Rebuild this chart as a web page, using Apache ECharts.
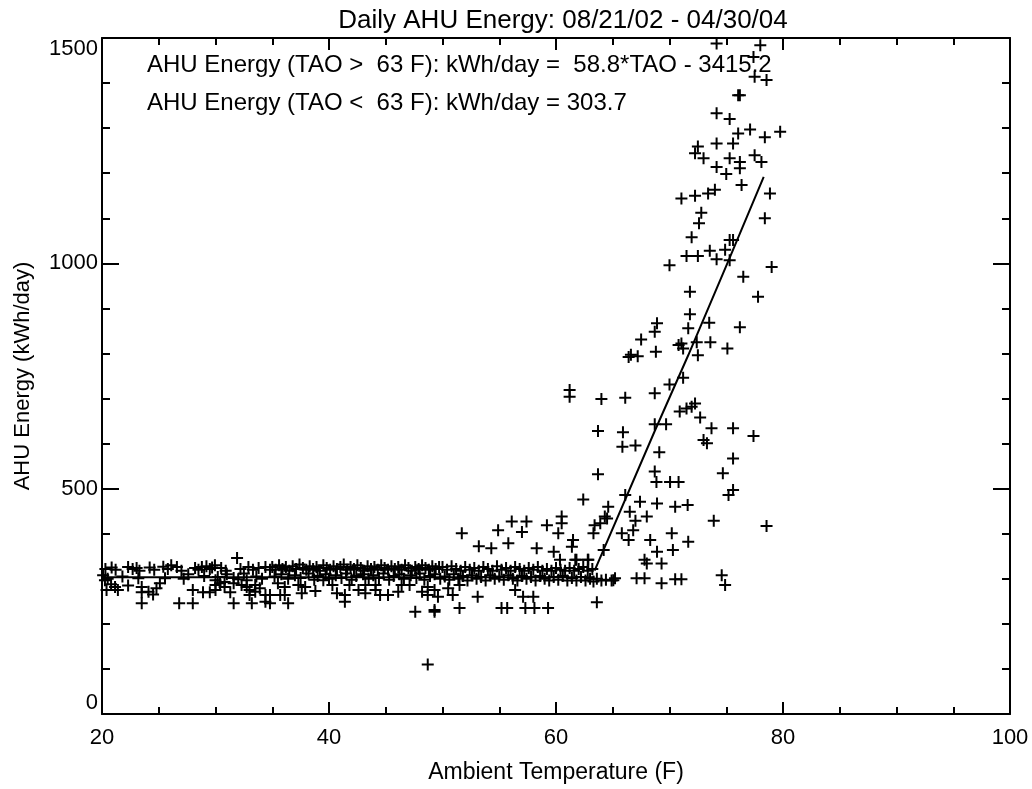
<!DOCTYPE html>
<html><head><meta charset="utf-8">
<script src="https://cdn.jsdelivr.net/npm/echarts@6/dist/echarts.min.js"></script>
<style>html,body{margin:0;padding:0;background:#fff}#c{width:1032px;height:789px}</style>
</head><body><div id="c"></div>
<script>
const titleText = 'Daily AHU Energy: 08/21/02 - 04/30/04';
const xName = 'Ambient Temperature (F)';
const yName = 'AHU Energy (kWh/day)';
const fitText = ['AHU Energy (TAO >  63 F): kWh/day =  58.8*TAO - 3415.2', 'AHU Energy (TAO <  63 F): kWh/day = 303.7'];
const xRange = [20, 100, 20];
const yRange = [0, 1500, 500];

// Daily points, cold side (flat band)
const bandUpper = [
 [20.3,322],[20.85,325],[21.2,320],[22.3,326],[22.7,322],[23.05,324],[23.3,318],[24.2,325],[24.6,320],[25.4,327],[25.8,322],[26.1,330],[26.6,326],[27.0,318],[28.2,324],[28.5,320],[28.8,326],[29.2,328],[29.5,322],[29.7,325],[29.95,330],[30.5,324],[30.9,318],[31.9,346],[32.2,322],[32.9,326],[33.3,320],[33.8,324],[34.4,326],[34.8,320],
 [35.0,326],[35.3,320],[35.6,330],[35.9,322],[36.2,326],[36.5,318],[36.8,328],[37.1,322],[37.4,332],[37.7,324],[38.0,320],[38.3,328],[38.6,322],[38.9,326],[39.2,318],[39.5,330],[39.8,324],[40.1,320],[40.4,328],[40.7,322],[41.0,326],[41.3,332],[41.6,320],[41.9,326],[42.2,322],[42.5,330],[42.8,324],[43.1,318],[43.4,328],[43.7,322],[44.0,326],[44.3,320],[44.6,330],[44.9,324],[45.2,320],[45.5,328],[45.8,322],[46.1,326],[46.4,320],[46.7,330],[47.0,324],[47.3,318],[47.6,326],[47.9,322],[48.2,330],[48.5,324],[48.8,320],[49.1,328],[49.4,322],[49.7,326],
 [50.0,326],[50.4,320],[50.8,328],[51.2,322],[51.6,318],[52.0,326],[52.4,320],[52.8,324],[53.2,318],[53.6,326],[54.0,322],[54.4,318],[54.8,328],[55.2,320],[55.6,324],[56.0,318],[56.4,326],[56.8,322],[57.2,318],[57.6,324],[58.0,320],[58.4,326],[58.8,318],[59.2,322],[59.6,318],[60.0,324],[60.4,320],[60.8,318],[61.2,324],[61.6,318],[62.0,322],[62.4,326],[62.8,318],[63.2,322]
];
const bandMiddle = [
 [20.1,308],[20.5,300],[21.8,305],[23.2,301],[25.55,301],[27.2,300],[27.6,310],[29.0,306],[30.2,304],[31.0,310],[31.6,302],[32.0,299],[32.5,312],[33.6,305],[34.1,300],
 [35.2,305],[35.8,310],[36.4,300],[37.0,308],[37.5,302],[38.2,312],[38.7,298],[39.0,306],[39.7,310],[40.0,300],[40.6,308],[41.1,302],[41.5,312],[42.0,298],[42.4,306],[43.0,310],[43.5,300],[43.9,308],[44.4,302],[44.8,312],[45.3,298],[45.7,306],[46.2,310],[46.6,300],[47.2,308],[47.7,302],[48.0,312],[48.4,298],[48.9,306],[49.3,310],[49.8,300],
 [50.2,305],[50.6,298],[51.0,310],[51.4,300],[51.8,306],[52.2,296],[52.6,308],[53.0,300],[53.4,304],[53.8,296],[54.2,308],[54.6,300],[55.0,305],[55.4,298],[55.8,308],[56.2,300],[56.6,296],[57.0,306],[57.4,300],[57.8,304],[58.2,296],[58.6,306],[59.0,300],[59.4,296],[59.8,304],[60.2,298],[60.6,306],[61.0,296],[61.4,302],[61.8,296],[62.2,304],[62.6,296],[63.0,300],[63.3,294],[63.6,300],[64.0,296],[64.4,298],[64.9,296],[65.2,301]
];
const bandLower = [
 [20.26,297],[20.4,275],[20.8,288],[21.15,282],[21.4,275],[22.3,285],[23.5,282],[23.5,270],[24.1,271],[24.5,265],[24.8,279],[25.1,290],[28.0,275],[28.9,270],[29.5,270],[30.0,275],[30.0,286],[30.0,297],[30.4,290],[30.8,293],[30.8,282],[31.3,270],[31.6,290],[32.3,286],[32.75,297],[32.75,282],[33.0,275],[33.0,264],[33.5,286],[33.5,271],[33.9,279],[34.4,264],[34.4,249],
 [23.5,246],[26.8,246],[28.0,246],[31.6,246],[33.2,246],
 [34.8,264],[34.8,246],[35.5,290],[35.7,264],[36.1,282],[36.1,264],[36.4,246],[37.3,286],[37.6,268],[37.9,282],[38.8,273],[39.5,297],[40.3,286],[40.7,268],[41.4,264],[41.4,249],[41.8,286],[42.6,275],[43.2,286],[43.2,268],[44.1,286],[44.1,275],[44.5,264],[45.2,264],[46.1,271],[46.4,286],[47.1,286],[47.6,227],[48.2,271],[48.7,282],[48.7,264],[49.3,227],[49.3,275],
 [49.6,260],[49.3,231],[50.5,279],[50.9,264],[51.5,286],[51.5,235],[53.1,260],[55.2,235],[55.7,235],[56.4,275],[57.1,260],[57.3,235],[58.0,260],[58.1,235],[59.3,235],[63.6,248],
 [48.7,110]
];
// Daily points, warm side (rising)
const risePoints = [
 [51.7,401],[53.2,372],[54.3,368],[54.9,408],[55.8,379],[56.1,427],[57.0,404],[57.4,427],[58.3,368],[59.2,419],[59.8,360],[60.2,401],[60.5,438],[60.5,423],[60.35,342],[61.4,371],[61.5,386],[61.8,342],[62.8,342],[62.4,476],[63.3,401],[63.4,419],[63.9,423],[64.2,364],[64.5,434],[64.6,460],[61.7,342],
 [61.2,704],[61.2,719],[63.7,532],[63.7,628],[64.0,699],[65.9,625],[65.85,593],[67.0,596],[66.1,702],[66.4,792],[66.6,797],[67.2,794],[67.5,831],
 [68.7,848],[68.9,867],[68.8,804],[71.8,887],[71.65,856],[73.5,868],[76.2,858],[71.05,822],[70.8,819],[71.2,811],[72.4,825],[73.6,825],[72.5,796],[75.1,811],[71.2,746],[70.0,731],[68.7,712],
 [72.25,689],[71.95,682],[71.5,678],[70.9,671],[72.7,658],[73.7,634],[75.6,634],[77.4,617],[73.0,608],[73.3,601],[68.7,643],[69.7,643],[69.1,581],[75.6,567],[74.7,534],[68.7,538],[68.85,515],[70.05,515],[70.8,515],
 [75.2,486],[75.6,497],[66.1,486],[67.4,471],[66.5,449],[68.9,467],[70.5,460],[71.6,464],[64.3,438],[68.0,438],[67.0,429],[73.9,429],[78.55,417],
 [65.8,401],[66.4,386],[66.8,408],[68.3,386],[68.9,360],[70.2,401],[70.3,364],[71.65,382],[67.8,342],[68.0,334],[69.3,334],[74.6,308],[74.9,286],[67.1,301],[67.8,301],[69.3,290],[70.5,299],[71.05,299],[65.05,297],[62.85,342],
 [74.15,1488],[78.0,1484],[77.4,1458],[77.5,1414],[78.55,1407],[76.05,1373],[76.2,1373],[74.15,1333],[75.3,1320],[76.05,1288],[77.1,1297],[78.4,1280],[79.75,1292],[74.15,1266],[75.6,1266],[72.5,1259],[72.25,1244],[73.0,1233],[75.3,1233],[76.2,1225],[77.5,1240],[78.1,1225],[74.15,1214],[75.0,1198],[76.2,1211],[76.35,1174],[78.85,1155],[74.0,1163],[73.4,1155],[71.05,1144],[72.25,1150],[72.8,1112],[72.6,1089],[78.4,1100],[71.95,1058],[75.3,1052],[75.6,1052],[71.5,1016],[72.5,1016],[73.55,1028],[74.15,1009],[74.9,1030],[75.3,1007],[70.0,996],[79.0,992],[76.5,970],[71.8,937],[77.8,926]
];
// Fitted model lines
const fitCold = [[20,303.7],[63.4,303.7]];
const fitWarm = [[63.4,318],[68.7,628],[71.65,796],[75.3,1012],[78.3,1192]];

const FONT = 'Liberation Sans, Arial, sans-serif';
const plus = 'path://M0,6L12,6M6,0L6,12';
const chart = echarts.init(document.getElementById('c'), null, {renderer: 'canvas'});

function axisCommon(extra) {
  return Object.assign({
    type: 'value',
    axisLine: {show: true, onZero: false, lineStyle: {color: '#000', width: 2}},
    splitLine: {show: false},
    minorSplitLine: {show: false}
  }, extra);
}
const plain = v => String(v);

chart.setOption({
  backgroundColor: '#fff',
  animation: false,
  title: {
    text: titleText, left: 558, top: 3, textAlign: 'center',
    textStyle: {fontFamily: FONT, fontSize: 26, fontWeight: 'normal', color: '#000'}
  },
  grid: {left: 102, right: 22, top: 38, bottom: 75},
  xAxis: [
    axisCommon({
      min: xRange[0], max: xRange[1], interval: xRange[2], position: 'bottom',
      name: xName, nameLocation: 'middle', nameGap: 47,
      nameTextStyle: {fontFamily: FONT, fontSize: 23, color: '#000'},
      axisTick: {show: true, inside: true, length: 12, lineStyle: {color: '#000', width: 2}},
      minorTick: {show: true, splitNumber: 4, length: 7, lineStyle: {color: '#000', width: 2}},
      axisLabel: {fontFamily: FONT, fontSize: 22, color: '#000', margin: 13, formatter: plain}
    }),
    axisCommon({
      min: xRange[0], max: xRange[1], interval: xRange[2], position: 'top',
      axisTick: {show: true, inside: true, length: 12, lineStyle: {color: '#000', width: 2}},
      minorTick: {show: true, splitNumber: 4, length: 7, lineStyle: {color: '#000', width: 2}},
      axisLabel: {show: false}
    })
  ],
  yAxis: [
    axisCommon({
      min: yRange[0], max: yRange[1], interval: yRange[2], position: 'left',
      name: yName, nameLocation: 'middle', nameGap: 68,
      nameTextStyle: {fontFamily: FONT, fontSize: 22, color: '#000'},
      axisTick: {show: true, inside: true, length: 17, lineStyle: {color: '#000', width: 2}},
      minorTick: {show: true, splitNumber: 5, length: 8, lineStyle: {color: '#000', width: 2}},
      axisLabel: {fontFamily: FONT, fontSize: 22, color: '#000', margin: 4, formatter: plain,
        verticalAlignMaxLabel: 'top', verticalAlignMinLabel: 'bottom'}
    }),
    axisCommon({
      min: yRange[0], max: yRange[1], interval: yRange[2], position: 'right',
      axisTick: {show: true, inside: true, length: 17, lineStyle: {color: '#000', width: 2}},
      minorTick: {show: true, splitNumber: 5, length: 8, lineStyle: {color: '#000', width: 2}},
      axisLabel: {show: false}
    })
  ],
  graphic: [
    {type: 'text', left: 147, top: 53, z: 0, style: {text: fitText[0], font: '24px ' + FONT, fill: '#000'}},
    {type: 'text', left: 147, top: 91, z: 0, style: {text: fitText[1], font: '24px ' + FONT, fill: '#000'}}
  ],
  series: [
    {
      type: 'scatter', xAxisIndex: 0, yAxisIndex: 0, z: 3,
      symbol: plus, symbolSize: 12,
      itemStyle: {color: 'rgba(0,0,0,0)', borderColor: '#000', borderWidth: 2, opacity: 1},
      emphasis: {disabled: true},
      data: [].concat(bandUpper, bandMiddle, bandLower, risePoints)
    },
    {
      type: 'line', xAxisIndex: 0, yAxisIndex: 0, z: 4, symbol: 'none',
      lineStyle: {color: '#000', width: 2}, data: fitCold
    },
    {
      type: 'line', xAxisIndex: 0, yAxisIndex: 0, z: 4, symbol: 'none',
      lineStyle: {color: '#000', width: 2}, data: fitWarm
    }
  ]
});
</script>
</body></html>
